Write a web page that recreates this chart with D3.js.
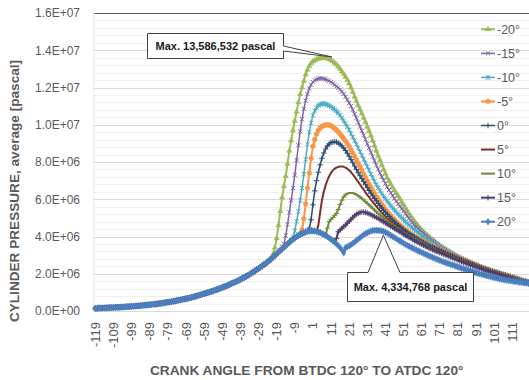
<!DOCTYPE html>
<html>
<head>
<meta charset="utf-8">
<script src="https://cdn.jsdelivr.net/npm/d3@7/dist/d3.min.js"></script>
<style>
  html, body { margin: 0; padding: 0; background: #fff; }
  svg { display: block; font-family: "Liberation Sans", Arial, sans-serif; }
</style>
</head>
<body>
<svg id="chart" width="529" height="380"></svg>
<script>
// ---- data (pressure in MPa, one value per crank-angle degree) ----
const crankAngles = d3.range(-119, 121);           // -119 .. 120
const yTickValues = [0, 2, 4, 6, 8, 10, 12, 14, 16]; // MPa
const seriesNames = ["-20°", "-15°", "-10°", "-5°", "0°", "5°", "10°", "15°", "20°"];

// motored compression curve, -119 .. 18
const motoredPressure = [
  0.14, 0.14, 0.15, 0.15, 0.16, 0.16, 0.17, 0.17, 0.18, 0.18,
  0.19, 0.19, 0.2, 0.2, 0.21, 0.21, 0.22, 0.23, 0.23, 0.24,
  0.25, 0.25, 0.26, 0.27, 0.28, 0.29, 0.3, 0.31, 0.32, 0.33,
  0.34, 0.35, 0.36, 0.37, 0.38, 0.4, 0.41, 0.42, 0.44, 0.46,
  0.47, 0.49, 0.5, 0.52, 0.54, 0.56, 0.58, 0.6, 0.62, 0.64,
  0.66, 0.68, 0.71, 0.73, 0.76, 0.78, 0.81, 0.84, 0.87, 0.9,
  0.93, 0.96, 0.99, 1.02, 1.05, 1.08, 1.12, 1.15, 1.19, 1.22,
  1.26, 1.3, 1.34, 1.38, 1.42, 1.47, 1.51, 1.55, 1.6, 1.65,
  1.7, 1.75, 1.8, 1.85, 1.91, 1.97, 2.03, 2.09, 2.15, 2.22,
  2.28, 2.35, 2.42, 2.49, 2.56, 2.64, 2.72, 2.8, 2.89, 2.98,
  3.07, 3.16, 3.25, 3.34, 3.42, 3.51, 3.6, 3.69, 3.77, 3.85,
  3.92, 3.99, 4.05, 4.11, 4.16, 4.2, 4.24, 4.27, 4.29, 4.3,
  4.3, 4.29, 4.27, 4.24, 4.21, 4.16, 4.11, 4.05, 3.99, 3.92,
  3.85, 3.77, 3.69, 3.6, 3.51, 3.4, 3.28, 3.12
];

// first crank angle of each fired curve
const fireStart = [-21, -16, -11, -6, -1, 3, 8, 14, 19];

// fired curves, from fireStart to 120
const firedM20 = [
  3.05, 3.4, 3.9, 4.6, 5.35, 6.1, 6.7, 7.25, 7.9, 8.6,
  9.15, 9.7, 10.2, 10.7, 11.2, 11.65, 12.0, 12.35, 12.7, 12.95,
  13.15, 13.3, 13.4, 13.46, 13.51, 13.54, 13.57, 13.58, 13.586532, 13.58,
  13.56, 13.52, 13.47, 13.4, 13.32, 13.23, 13.12, 13.0, 12.86, 12.72,
  12.57, 12.4, 12.22, 12.0, 11.76, 11.51, 11.27, 11.03, 10.82, 10.6,
  10.38, 10.15, 9.9, 9.66, 9.41, 9.15, 8.88, 8.6, 8.34, 8.1,
  7.85, 7.6, 7.38, 7.16, 6.98, 6.8, 6.63, 6.47, 6.32, 6.17,
  6.02, 5.86, 5.7, 5.54, 5.38, 5.23, 5.09, 4.95, 4.82, 4.69,
  4.57, 4.46, 4.35, 4.25, 4.15, 4.06, 3.98, 3.9, 3.82, 3.74,
  3.66, 3.58, 3.51, 3.44, 3.37, 3.31, 3.25, 3.19, 3.13, 3.07,
  3.02, 2.96, 2.91, 2.86, 2.81, 2.76, 2.71, 2.67, 2.62, 2.58,
  2.54, 2.5, 2.46, 2.42, 2.38, 2.35, 2.31, 2.28, 2.24, 2.21,
  2.18, 2.15, 2.12, 2.09, 2.06, 2.03, 2.0, 1.97, 1.94, 1.91,
  1.88, 1.85, 1.82, 1.79, 1.76, 1.73, 1.7, 1.67, 1.64, 1.61,
  1.58, 1.55
];
const firedM15 = [
  3.45, 3.6, 4.05, 4.65, 5.3, 5.95, 6.6, 7.3, 8.1, 8.9,
  9.65, 10.3, 10.85, 11.3, 11.65, 11.95, 12.15, 12.29, 12.38, 12.44,
  12.47, 12.49, 12.49, 12.47, 12.44, 12.4, 12.35, 12.29, 12.22, 12.14,
  12.06, 11.98, 11.89, 11.78, 11.65, 11.5, 11.34, 11.17, 11.0, 10.8,
  10.58, 10.36, 10.13, 9.9, 9.67, 9.44, 9.21, 8.98, 8.75, 8.52,
  8.29, 8.06, 7.83, 7.61, 7.4, 7.2, 7.02, 6.84, 6.67, 6.5,
  6.34, 6.19, 6.04, 5.89, 5.75, 5.62, 5.49, 5.36, 5.23, 5.1,
  4.97, 4.85, 4.74, 4.63, 4.53, 4.43, 4.34, 4.25, 4.17, 4.09,
  4.01, 3.93, 3.85, 3.78, 3.71, 3.64, 3.57, 3.5, 3.43, 3.36,
  3.3, 3.24, 3.18, 3.12, 3.06, 3.01, 2.95, 2.9, 2.85, 2.8,
  2.75, 2.7, 2.66, 2.61, 2.57, 2.53, 2.49, 2.45, 2.41, 2.37,
  2.34, 2.3, 2.27, 2.23, 2.2, 2.17, 2.14, 2.11, 2.08, 2.05,
  2.02, 1.99, 1.96, 1.93, 1.9, 1.87, 1.84, 1.81, 1.78, 1.75,
  1.72, 1.69, 1.66, 1.63, 1.6, 1.57, 1.54
];
const firedM10 = [
  3.8, 3.95, 4.3, 4.8, 5.35, 5.95, 6.6, 7.35, 8.15, 8.95,
  9.6, 10.1, 10.5, 10.75, 10.92, 11.03, 11.09, 11.12, 11.13, 11.11,
  11.07, 11.02, 10.96, 10.89, 10.81, 10.72, 10.62, 10.5, 10.36, 10.21,
  10.05, 9.89, 9.72, 9.53, 9.34, 9.15, 8.95, 8.75, 8.55, 8.35,
  8.15, 7.95, 7.75, 7.55, 7.35, 7.15, 6.96, 6.78, 6.61, 6.45,
  6.3, 6.16, 6.02, 5.89, 5.77, 5.65, 5.53, 5.42, 5.31, 5.2,
  5.1, 5.0, 4.9, 4.8, 4.71, 4.62, 4.53, 4.45, 4.37, 4.29,
  4.21, 4.13, 4.05, 3.98, 3.91, 3.84, 3.77, 3.7, 3.64, 3.58,
  3.52, 3.46, 3.4, 3.34, 3.29, 3.24, 3.19, 3.14, 3.09, 3.04,
  2.99, 2.94, 2.89, 2.84, 2.79, 2.74, 2.69, 2.65, 2.61, 2.57,
  2.53, 2.49, 2.45, 2.41, 2.37, 2.33, 2.3, 2.26, 2.23, 2.19,
  2.16, 2.13, 2.1, 2.07, 2.04, 2.01, 1.98, 1.95, 1.92, 1.89,
  1.86, 1.83, 1.8, 1.77, 1.74, 1.71, 1.68, 1.65, 1.62, 1.59,
  1.56, 1.53
];
const firedM5 = [
  4.15, 4.35, 4.95, 5.75, 6.6, 7.4, 8.2, 8.85, 9.2, 9.5,
  9.7, 9.83, 9.91, 9.96, 9.99, 10.0, 9.98, 9.94, 9.88, 9.8,
  9.71, 9.62, 9.5, 9.38, 9.25, 9.12, 8.98, 8.83, 8.66, 8.48,
  8.3, 8.12, 7.93, 7.74, 7.55, 7.36, 7.17, 6.98, 6.8, 6.63,
  6.46, 6.3, 6.15, 6.0, 5.86, 5.72, 5.59, 5.46, 5.34, 5.22,
  5.11, 5.0, 4.9, 4.8, 4.71, 4.62, 4.53, 4.45, 4.37, 4.29,
  4.22, 4.15, 4.08, 4.02, 3.96, 3.9, 3.84, 3.79, 3.73, 3.68,
  3.63, 3.58, 3.53, 3.48, 3.44, 3.39, 3.35, 3.31, 3.26, 3.22,
  3.17, 3.13, 3.08, 3.04, 3.0, 2.95, 2.91, 2.87, 2.83, 2.78,
  2.74, 2.7, 2.66, 2.62, 2.58, 2.54, 2.5, 2.46, 2.42, 2.38,
  2.34, 2.3, 2.26, 2.23, 2.19, 2.16, 2.12, 2.09, 2.06, 2.03,
  2.0, 1.97, 1.94, 1.91, 1.88, 1.85, 1.82, 1.79, 1.76, 1.73,
  1.7, 1.67, 1.64, 1.61, 1.58, 1.55, 1.53
];
const fired0 = [
  4.45, 4.9, 5.7, 6.45, 7.0, 7.45, 7.85, 8.2, 8.48, 8.7,
  8.86, 8.97, 9.04, 9.08, 9.09, 9.07, 9.02, 8.95, 8.86, 8.75,
  8.62, 8.47, 8.31, 8.14, 7.96, 7.78, 7.6, 7.42, 7.26, 7.1,
  6.94, 6.78, 6.62, 6.47, 6.32, 6.18, 6.04, 5.91, 5.78, 5.65,
  5.53, 5.41, 5.3, 5.19, 5.08, 4.98, 4.88, 4.79, 4.7, 4.61,
  4.53, 4.45, 4.37, 4.3, 4.23, 4.16, 4.09, 4.03, 3.97, 3.91,
  3.85, 3.79, 3.74, 3.68, 3.63, 3.58, 3.53, 3.48, 3.44, 3.39,
  3.35, 3.31, 3.27, 3.22, 3.18, 3.14, 3.09, 3.05, 3.01, 2.97,
  2.92, 2.88, 2.84, 2.8, 2.76, 2.72, 2.68, 2.64, 2.6, 2.56,
  2.52, 2.48, 2.44, 2.4, 2.36, 2.32, 2.28, 2.25, 2.21, 2.18,
  2.14, 2.11, 2.08, 2.05, 2.02, 1.99, 1.96, 1.93, 1.9, 1.87,
  1.84, 1.81, 1.78, 1.75, 1.72, 1.69, 1.66, 1.63, 1.6, 1.57,
  1.55, 1.52
];
const fired5 = [
  4.27, 4.6, 5.3, 5.95, 6.4, 6.75, 7.02, 7.24, 7.42, 7.55,
  7.64, 7.7, 7.74, 7.76, 7.76, 7.74, 7.7, 7.64, 7.56, 7.46,
  7.34, 7.21, 7.07, 6.93, 6.79, 6.65, 6.51, 6.37, 6.24, 6.11,
  5.98, 5.86, 5.74, 5.62, 5.5, 5.39, 5.28, 5.18, 5.08, 4.98,
  4.89, 4.8, 4.71, 4.63, 4.55, 4.47, 4.39, 4.32, 4.25, 4.18,
  4.11, 4.05, 3.99, 3.93, 3.87, 3.81, 3.76, 3.71, 3.66, 3.61,
  3.56, 3.51, 3.46, 3.42, 3.38, 3.34, 3.3, 3.26, 3.22, 3.18,
  3.14, 3.1, 3.06, 3.02, 2.98, 2.94, 2.9, 2.86, 2.82, 2.78,
  2.74, 2.7, 2.66, 2.62, 2.58, 2.54, 2.5, 2.46, 2.42, 2.38,
  2.34, 2.31, 2.27, 2.24, 2.2, 2.17, 2.13, 2.1, 2.07, 2.04,
  2.01, 1.98, 1.95, 1.92, 1.89, 1.86, 1.83, 1.8, 1.77, 1.74,
  1.71, 1.68, 1.65, 1.62, 1.59, 1.56, 1.54, 1.51
];
const fired10 = [
  4.08, 4.45, 4.8, 4.92, 5.02, 5.12, 5.24, 5.45, 5.72, 5.95,
  6.13, 6.24, 6.3, 6.33, 6.34, 6.33, 6.3, 6.25, 6.19, 6.12,
  6.04, 5.96, 5.87, 5.78, 5.69, 5.6, 5.51, 5.42, 5.33, 5.24,
  5.16, 5.08, 5.0, 4.92, 4.84, 4.76, 4.68, 4.61, 4.54, 4.47,
  4.4, 4.33, 4.27, 4.21, 4.15, 4.09, 4.03, 3.97, 3.92, 3.87,
  3.82, 3.77, 3.72, 3.67, 3.62, 3.57, 3.52, 3.47, 3.41, 3.36,
  3.31, 3.26, 3.22, 3.18, 3.14, 3.1, 3.06, 3.02, 2.98, 2.94,
  2.9, 2.86, 2.82, 2.78, 2.74, 2.7, 2.66, 2.62, 2.59, 2.55,
  2.51, 2.48, 2.44, 2.4, 2.37, 2.33, 2.3, 2.26, 2.23, 2.2,
  2.16, 2.13, 2.1, 2.07, 2.04, 2.01, 1.98, 1.95, 1.92, 1.89,
  1.86, 1.83, 1.8, 1.77, 1.74, 1.71, 1.68, 1.65, 1.62, 1.59,
  1.56, 1.53, 1.51
];
const fired15 = [
  3.9, 4.25, 4.35, 4.44, 4.53, 4.62, 4.72, 4.82, 4.92, 5.02,
  5.11, 5.19, 5.25, 5.29, 5.31, 5.31, 5.29, 5.26, 5.22, 5.17,
  5.12, 5.07, 5.02, 4.97, 4.91, 4.85, 4.79, 4.73, 4.67, 4.61,
  4.55, 4.49, 4.43, 4.37, 4.31, 4.25, 4.19, 4.13, 4.07, 4.01,
  3.95, 3.9, 3.84, 3.78, 3.73, 3.68, 3.63, 3.58, 3.53, 3.48,
  3.43, 3.38, 3.34, 3.29, 3.25, 3.21, 3.17, 3.13, 3.09, 3.05,
  3.01, 2.97, 2.93, 2.89, 2.85, 2.81, 2.77, 2.73, 2.69, 2.65,
  2.61, 2.57, 2.54, 2.5, 2.47, 2.43, 2.4, 2.36, 2.33, 2.3,
  2.26, 2.23, 2.2, 2.17, 2.14, 2.11, 2.08, 2.05, 2.02, 1.99,
  1.96, 1.93, 1.9, 1.87, 1.84, 1.81, 1.78, 1.75, 1.72, 1.69,
  1.66, 1.63, 1.61, 1.58, 1.55, 1.53, 1.5
];
const fired20 = [
  3.4, 3.45, 3.5, 3.56, 3.63, 3.7, 3.78, 3.86, 3.94, 4.02,
  4.09, 4.15, 4.2, 4.25, 4.29, 4.32, 4.33, 4.334768, 4.33, 4.32,
  4.3, 4.27, 4.23, 4.18, 4.12, 4.06, 4.0, 3.94, 3.88, 3.82,
  3.76, 3.7, 3.64, 3.58, 3.53, 3.48, 3.43, 3.38, 3.33, 3.28,
  3.23, 3.19, 3.14, 3.1, 3.05, 3.01, 2.96, 2.92, 2.88, 2.84,
  2.8, 2.76, 2.72, 2.68, 2.64, 2.61, 2.57, 2.54, 2.5, 2.47,
  2.44, 2.4, 2.37, 2.34, 2.3, 2.27, 2.24, 2.21, 2.18, 2.15,
  2.12, 2.09, 2.06, 2.03, 2.0, 1.98, 1.95, 1.92, 1.9, 1.87,
  1.85, 1.82, 1.8, 1.78, 1.75, 1.73, 1.71, 1.69, 1.67, 1.65,
  1.64, 1.62, 1.61, 1.59, 1.58, 1.56, 1.55, 1.54, 1.52, 1.51,
  1.5, 1.48
];
const firedCurves = [firedM20, firedM15, firedM10, firedM5, fired0, fired5, fired10, fired15, fired20];

// ---- styling per series ----
const seriesStyle = [
  { color: "#9BBB59", width: 2,   marker: "triangle" },
  { color: "#8064A2", width: 1.5, marker: "x" },
  { color: "#4BACC6", width: 1.5, marker: "star" },
  { color: "#F79646", width: 2,   marker: "circle" },
  { color: "#2C4D75", width: 1.5, marker: "plus" },
  { color: "#7F2E2B", width: 2,   marker: null },
  { color: "#6F8A3A", width: 2,   marker: "dash" },
  { color: "#4F3D6A", width: 2,   marker: "plus" },
  { color: "#4A7EBF", width: 3,   marker: "diamond" }
];

// full series: motored curve up to ignition, then the fired values
const series = seriesNames.map((name, i) => {
  const pre = motoredPressure.slice(0, fireStart[i] + 119);
  return { name, values: pre.concat(firedCurves[i]), style: seriesStyle[i] };
});

// ---- layout ----
const svg = d3.select("#chart");
const W = 529, H = 380;
const plot = { left: 94.5, right: 529.5, top: 13, bottom: 311 };
const textGrey = "#595959";

const x = d3.scaleBand().domain(crankAngles).range([plot.left, plot.right]).padding(0);
const cx = a => x(a) + x.bandwidth() / 2;
const y = d3.scaleLinear().domain([0, 16]).range([plot.bottom, plot.top]);

function sciLabel(mpa) {
  const v = mpa * 1e6;
  if (v === 0) return "0.0E+00";
  const e = Math.floor(Math.log10(v) + 1e-9);
  const m = v / Math.pow(10, e);
  return m.toFixed(1) + "E+" + String(e).padStart(2, "0");
}

// minor and major gridlines
const gridG = svg.append("g");
d3.range(0, 41).forEach(k => {
  const v = k * 0.4;
  if (k % 5 === 0) return;
  gridG.append("line")
    .attr("x1", plot.left - 1).attr("x2", W)
    .attr("y1", Math.round(y(v)) + 0.5).attr("y2", Math.round(y(v)) + 0.5)
    .attr("stroke", "#EFEFEF").attr("stroke-width", 1);
});
yTickValues.forEach(v => {
  if (v === 0 || v === 16) return;
  gridG.append("line")
    .attr("x1", plot.left - 1).attr("x2", W)
    .attr("y1", Math.round(y(v)) + 0.5).attr("y2", Math.round(y(v)) + 0.5)
    .attr("stroke", "#D9D9D9").attr("stroke-width", 1);
});
// top border and left / bottom axis lines
gridG.append("line").attr("x1", plot.left - 1).attr("x2", W)
  .attr("y1", Math.round(y(16)) + 0.5).attr("y2", Math.round(y(16)) + 0.5)
  .attr("stroke", "#595959").attr("stroke-width", 1);
gridG.append("line").attr("x1", plot.left - 0.5).attr("x2", plot.left - 0.5)
  .attr("y1", y(16)).attr("y2", y(0))
  .attr("stroke", "#E4E4E4").attr("stroke-width", 1);
gridG.append("line").attr("x1", plot.left - 1).attr("x2", W)
  .attr("y1", Math.round(y(0)) + 0.5).attr("y2", Math.round(y(0)) + 0.5)
  .attr("stroke", "#D9D9D9").attr("stroke-width", 1);

// y axis labels
const yAxis = d3.axisLeft(y).tickValues(yTickValues).tickFormat(sciLabel).tickSize(0).tickPadding(0);
const yAxisG = svg.append("g").attr("transform", "translate(80,0)").call(yAxis);
yAxisG.select(".domain").remove();
yAxisG.selectAll("text").attr("fill", textGrey).style("font-size", "12px")
  .style("font-family", '"Liberation Sans", Arial, sans-serif');

// x axis labels, one every ten degrees, rotated
const xTickValues = crankAngles.filter((a, i) => i % 10 === 0);
const xAxis = d3.axisBottom(x).tickValues(xTickValues).tickSize(0);
const xAxisG = svg.append("g").attr("transform", `translate(0,${plot.bottom})`).call(xAxis);
xAxisG.select(".domain").remove();
xAxisG.selectAll("text")
  .attr("transform", "rotate(-90)")
  .attr("x", -11).attr("y", 0).attr("dy", "0.35em")
  .style("text-anchor", "end")
  .attr("fill", textGrey).style("font-size", "13px")
  .style("font-family", '"Liberation Sans", Arial, sans-serif');

// axis titles
svg.append("text")
  .attr("x", 306.7).attr("y", 375)
  .attr("text-anchor", "middle")
  .attr("fill", textGrey).attr("font-weight", "bold").style("font-size", "13.7px")
  .text("CRANK ANGLE FROM BTDC 120° TO ATDC 120°");
svg.append("text")
  .attr("transform", "translate(19,191) rotate(-90)")
  .attr("text-anchor", "middle")
  .attr("fill", textGrey).attr("font-weight", "bold").style("font-size", "13.6px")
  .text("CYLINDER PRESSURE, average [pascal]");

// ---- markers ----
const markerPaths = {
  triangle: { d: d3.symbol(d3.symbolTriangle, 12)(), fill: true },
  circle:   { d: d3.symbol(d3.symbolCircle, 18)(), fill: true },
  diamond:  { d: d3.symbol(d3.symbolDiamond, 13)(), fill: true },
  x:        { d: "M-2.1,-2.1L2.1,2.1M-2.1,2.1L2.1,-2.1", fill: false },
  star:     { d: "M-2.1,-2.1L2.1,2.1M-2.1,2.1L2.1,-2.1M0,-2.8V2.8", fill: false },
  plus:     { d: "M-2.8,0H2.8M0,-2.8V2.8", fill: false },
  dash:     { d: "M-2.5,0H2.5", fill: false }
};
function styleMarker(sel, m, color) {
  const p = markerPaths[m];
  sel.attr("d", p.d)
    .attr("fill", p.fill ? color : "none")
    .attr("stroke", color)
    .attr("stroke-width", p.fill ? 0.5 : 1);
}

// ---- curves ----
const line = d3.line()
  .x((d, i) => cx(crankAngles[i]))
  .y(d => y(d));

const curvesG = svg.append("g");
series.forEach(s => {
  const g = curvesG.append("g");
  g.append("path")
    .datum(s.values)
    .attr("fill", "none")
    .attr("stroke", s.style.color)
    .attr("stroke-width", s.style.width)
    .attr("stroke-linejoin", "round")
    .attr("d", line);
  if (s.style.marker) {
    g.selectAll("path.mk")
      .data(s.values)
      .join("path")
      .attr("class", "mk")
      .attr("transform", (d, i) => `translate(${cx(crankAngles[i])},${y(d)})`)
      .call(styleMarker, s.style.marker, s.style.color);
  }
});

// ---- legend ----
const legendG = svg.append("g");
series.forEach((s, i) => {
  const ly = 29.3 + i * 24.05;
  const row = legendG.append("g").attr("transform", `translate(0,${ly})`);
  row.append("line").attr("x1", 481).attr("x2", 495).attr("y1", 0).attr("y2", 0)
    .attr("stroke", s.style.color).attr("stroke-width", Math.min(s.style.width, 2));
  if (s.style.marker) {
    row.append("path").attr("transform", "translate(488,0)")
      .call(styleMarker, s.style.marker, s.style.color);
  }
  row.append("text").attr("x", 497).attr("y", 0).attr("dy", "0.35em")
    .attr("fill", textGrey).style("font-size", "12.5px")
    .text(s.name);
});

// ---- peak call-outs ----
function peakOf(values) {
  const i = d3.maxIndex(values);
  return { angle: crankAngles[i], value: values[i] };
}
const fmt = d3.format(",");
const hiPeak = peakOf(series[0].values);
const loPeak = peakOf(series[8].values);
const calloutG = svg.append("g");

// upper call-out, pointer leaving its right edge
{
  const bx0 = 147.5, bx1 = 283.5, by0 = 33.5, by1 = 58.5;
  const tip = [cx(hiPeak.angle) + 8, y(hiPeak.value) - 1];
  calloutG.append("path")
    .attr("d", `M${bx0},${by0}H${bx1}V46L${tip[0]},${tip[1]}L${bx1},51V${by1}H${bx0}Z`)
    .attr("fill", "#fff").attr("stroke", "#404040").attr("stroke-width", 1);
  calloutG.append("text")
    .attr("x", (bx0 + bx1) / 2).attr("y", (by0 + by1) / 2).attr("dy", "0.35em")
    .attr("text-anchor", "middle").attr("font-weight", "bold").style("font-size", "11px")
    .attr("fill", "#1a1a1a")
    .text(`Max. ${fmt(Math.round(hiPeak.value * 1e6))} pascal`);
}
// lower call-out, pointer leaving its top edge
{
  const bx0 = 347.5, bx1 = 473.5, by0 = 272.5, by1 = 301.5;
  const tip = [cx(loPeak.angle) + 7, y(loPeak.value) + 5];
  calloutG.append("path")
    .attr("d", `M${bx0},${by0}H368L${tip[0]},${tip[1]}L400,${by0}H${bx1}V${by1}H${bx0}Z`)
    .attr("fill", "#fff").attr("stroke", "#404040").attr("stroke-width", 1);
  calloutG.append("text")
    .attr("x", (bx0 + bx1) / 2).attr("y", (by0 + by1) / 2).attr("dy", "0.35em")
    .attr("text-anchor", "middle").attr("font-weight", "bold").style("font-size", "11px")
    .attr("fill", "#1a1a1a")
    .text(`Max. ${fmt(Math.round(loPeak.value * 1e6))} pascal`);
}
</script>
</body>
</html>
